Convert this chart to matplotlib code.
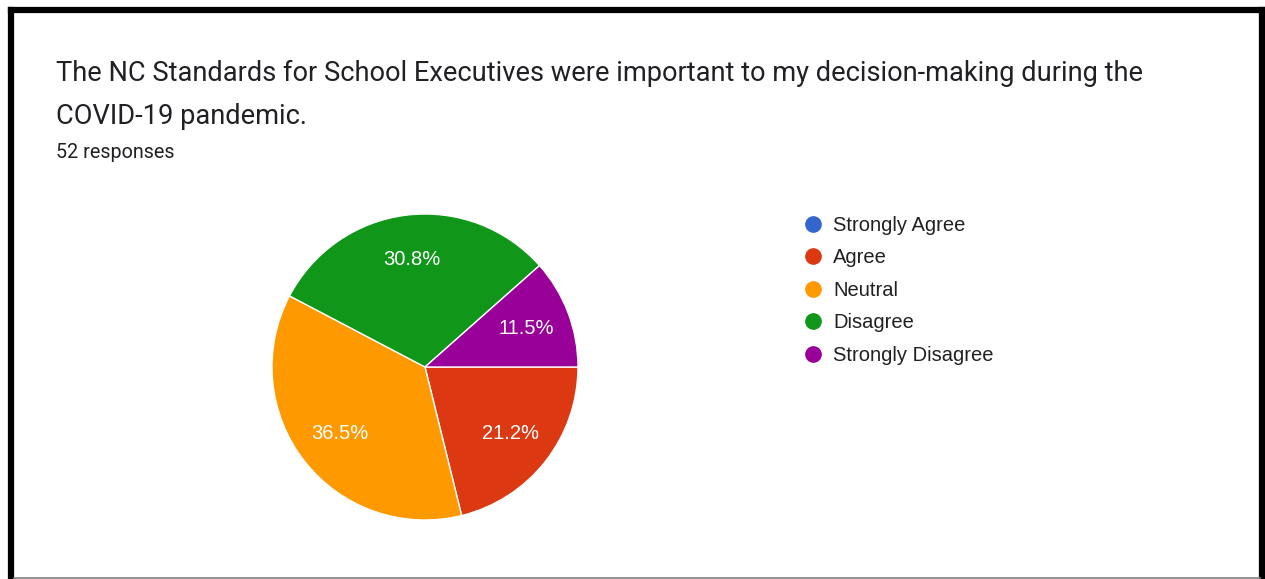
import matplotlib.pyplot as plt
from matplotlib.lines import Line2D

categories = ['Strongly Agree', 'Agree', 'Neutral', 'Disagree', 'Strongly Disagree']
counts = [0, 11, 19, 16, 6]
colors = ['#3366cc', '#dc3912', '#ff9900', '#109618', '#990099']

title = ('The NC Standards for School Executives were important to my decision-making during the\n'
         'COVID-19 pandemic.')
subtitle = '52 responses'

W, H = 1265, 579
fig = plt.figure(figsize=(W / 100, H / 100), dpi=100)
fig.patch.set_facecolor('white')

# frame around the screenshot
fig.add_artist(Line2D([11 / W, 11 / W], [0, 1 - 10 / H], color='black', linewidth=4.5,
                      transform=fig.transFigure, solid_capstyle='projecting'))
fig.add_artist(Line2D([11 / W, 1262 / W], [1 - 10 / H, 1 - 10 / H], color='black', linewidth=4.5,
                      transform=fig.transFigure, solid_capstyle='projecting'))
fig.add_artist(Line2D([1262 / W, 1262 / W], [0, 1 - 10 / H], color='black', linewidth=4.5,
                      transform=fig.transFigure, solid_capstyle='projecting'))
fig.add_artist(Line2D([14 / W, 1260 / W], [1.5 / H, 1.5 / H], color='#808080', linewidth=1.2,
                      transform=fig.transFigure))

fig.text(56 / W, 1 - 60 / H, title, fontsize=19.6, family=['Roboto', 'DejaVu Sans'],
         color='#202124', va='top', ha='left', linespacing=1.78)
fig.text(56 / W, 1 - 143 / H, subtitle, fontsize=14.2, family=['Roboto', 'DejaVu Sans'],
         color='#202124', va='top', ha='left')

# pie
cx, cy, r = 425, 367, 153
ax = fig.add_axes([(cx - r) / W, (H - cy - r) / H, 2 * r / W, 2 * r / H])
wedges, texts, autotexts = ax.pie(
    counts, colors=colors, startangle=0, counterclock=False, radius=1,
    autopct=lambda p: f'{p:.1f}%' if p > 0 else '', pctdistance=0.71,
    wedgeprops=dict(edgecolor='white', linewidth=1),
    textprops=dict(color='white', fontsize=14.5, family=['Liberation Sans', 'DejaVu Sans']))
ax.set_xlim(-1, 1)
ax.set_ylim(-1, 1)
ax.set_aspect('equal')
ax.axis('off')

handles = [Line2D([], [], marker='o', linestyle='none', markersize=11,
                  markerfacecolor=c, markeredgecolor=c) for c in colors]
fig.legend(handles, categories, loc='upper left', bbox_to_anchor=(803 / W, 1 - 216 / H),
           frameon=False, borderpad=0, borderaxespad=0, handlelength=1.0, handletextpad=0.5,
           labelspacing=0.67, prop=dict(family=['Liberation Sans', 'DejaVu Sans'], size=14.5),
           labelcolor='#212121')

fig.savefig('out.png', dpi=100)
